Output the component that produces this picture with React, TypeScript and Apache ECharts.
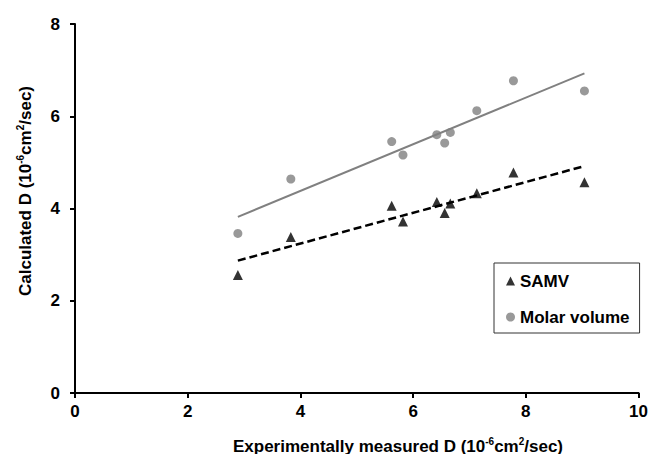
import React, { useEffect, useRef } from "react";
import * as echarts from "echarts";

const measuredD = [2.89, 3.83, 5.62, 5.82, 6.42, 6.56, 6.66, 7.13, 7.78, 9.04];
const samvD = [2.56, 3.38, 4.06, 3.72, 4.14, 3.9, 4.11, 4.33, 4.78, 4.57];
const molarD = [3.46, 4.64, 5.45, 5.16, 5.6, 5.42, 5.65, 6.12, 6.77, 6.55];
const samvFitX = [2.89, 9.04];
const samvFitY = [2.87, 4.92];
const molarFitX = [2.89, 9.04];
const molarFitY = [3.82, 6.93];
const xTicks = [0, 2, 4, 6, 8, 10];
const yTicks = [0, 2, 4, 6, 8];

const FONT = "'Liberation Sans', Arial, sans-serif";

export default function App() {
  const ref = useRef<HTMLDivElement>(null);
  useEffect(() => {
    if (!ref.current) return;
    const chart = echarts.init(ref.current, undefined, { renderer: "svg" });
    const rich = {
      a: { fontFamily: FONT, fontSize: 17, fontWeight: "bold", color: "#000", lineHeight: 20 },
      s: { fontFamily: FONT, fontSize: 10, fontWeight: "bold", color: "#000", lineHeight: 10, verticalAlign: "top" },
    };
    const title = (pre: string) =>
      `{a|${pre} (10}{s|-6}{a|cm}{s|2}{a|/sec)}`;
    chart.setOption({
      animation: false,
      backgroundColor: "#fff",
      grid: { left: 75, right: 12, top: 24, bottom: 61, containLabel: false },
      xAxis: {
        type: "value",
        min: xTicks[0],
        max: xTicks[xTicks.length - 1],
        interval: 2,
        axisLine: { show: true, onZero: false, lineStyle: { color: "#000", width: 2 } },
        axisTick: { show: true, inside: false, length: 5, lineStyle: { color: "#000", width: 2 } },
        axisLabel: { margin: 10, fontFamily: FONT, fontSize: 17, fontWeight: "bold", color: "#000" },
        splitLine: { show: false },
      },
      yAxis: {
        type: "value",
        min: yTicks[0],
        max: yTicks[yTicks.length - 1],
        interval: 2,
        axisLine: { show: true, onZero: false, lineStyle: { color: "#000", width: 2 } },
        axisTick: { show: true, inside: false, length: 5, lineStyle: { color: "#000", width: 2 } },
        axisLabel: { margin: 15, fontFamily: FONT, fontSize: 17, fontWeight: "bold", color: "#000" },
        splitLine: { show: false },
      },
      legend: {
        data: [
          { name: "SAMV", icon: "triangle" },
          { name: "Molar volume", icon: "circle" },
        ],
        orient: "vertical",
        left: 494,
        top: 263,
        padding: [8, 10, 6, 12],
        itemGap: 16,
        itemWidth: 9,
        itemHeight: 9,
        borderColor: "#333",
        borderWidth: 1,
        selectedMode: false,
        textStyle: { fontFamily: FONT, fontSize: 17, fontWeight: "bold", color: "#000", lineHeight: 20 },
      },
      graphic: [
        {
          type: "text",
          x: 25,
          y: 191,
          rotation: Math.PI / 2,
          style: {
            text: title("Calculated D"),
            rich,
            align: "center",
            verticalAlign: "middle",
          },
        },
        {
          type: "text",
          x: 398,
          y: 446,
          style: {
            text: title("Experimentally measured D"),
            rich,
            align: "center",
            verticalAlign: "middle",
          },
        },
      ],
      series: [
        {
          name: "Molar fit",
          type: "line",
          data: molarFitX.map((x, i) => [x, molarFitY[i]]),
          symbol: "none",
          lineStyle: { color: "#808080", width: 2 },
          z: 2,
        },
        {
          name: "SAMV fit",
          type: "line",
          data: samvFitX.map((x, i) => [x, samvFitY[i]]),
          symbol: "none",
          lineStyle: { color: "#000", width: 2.5, type: [8, 4] },
          z: 2,
        },
        {
          name: "SAMV",
          type: "scatter",
          data: measuredD.map((x, i) => [x, samvD[i]]),
          symbol: "triangle",
          symbolSize: 10,
          itemStyle: { color: "#000" },
          z: 3,
        },
        {
          name: "Molar volume",
          type: "scatter",
          data: measuredD.map((x, i) => [x, molarD[i]]),
          symbol: "circle",
          symbolSize: 9,
          itemStyle: { color: "#808080" },
          z: 3,
        },
      ],
    });
    return () => chart.dispose();
  }, []);
  return (
    <div
      ref={ref}
      style={{ position: "fixed", left: 0, top: 0, width: 651, height: 454 }}
    />
  );
}
